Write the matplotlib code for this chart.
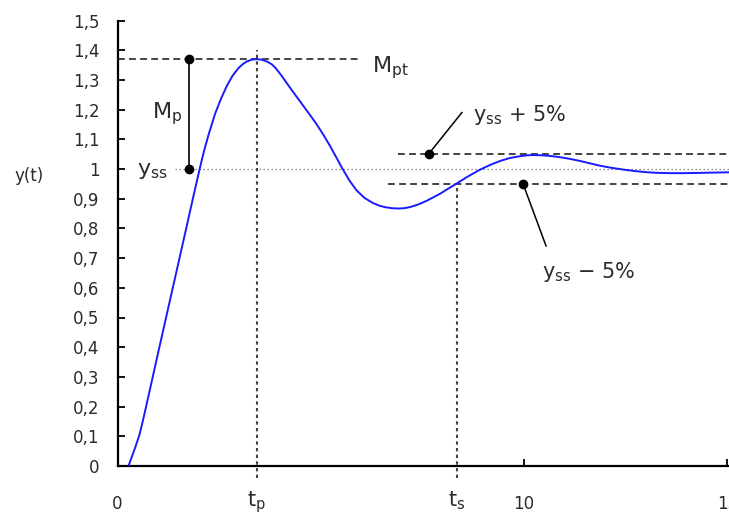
import matplotlib
matplotlib.use("Agg")
import matplotlib.pyplot as plt

plt.rcParams["font.family"] = ["DejaVu Sans"]
plt.rcParams["mathtext.fontset"] = "dejavusans"

# Step response y(t), sampled along the curve
t_resp = [0.27, 0.35, 0.44, 0.54, 0.62, 0.70, 0.87, 1.03, 1.20, 1.36, 1.53, 1.69,
          1.85, 2.00, 2.08, 2.15, 2.25, 2.40, 2.55, 2.69, 2.83, 2.97, 3.08, 3.18,
          3.30, 3.42, 3.55, 3.69, 3.80, 3.90, 4.03, 4.16, 4.30, 4.44, 4.60, 4.75,
          4.90, 5.06, 5.23, 5.37, 5.52, 5.70, 5.88, 6.08, 6.29, 6.45, 6.60, 6.75,
          6.91, 7.05, 7.20, 7.32, 7.44, 7.62, 7.80, 7.95, 8.10, 8.34, 8.62, 8.92,
          9.17, 9.41, 9.65, 9.90, 10.06, 10.22, 10.45, 10.71, 10.92, 11.13, 11.38, 11.62,
          11.87, 12.15, 12.44, 12.73, 13.02, 13.30, 13.59, 13.95, 14.33, 14.70, 15.05]
y_resp = [0.000, 0.030, 0.064, 0.105, 0.150, 0.198, 0.302, 0.400, 0.503, 0.600, 0.703, 0.800,
          0.898, 0.988, 1.034, 1.072, 1.120, 1.186, 1.238, 1.280, 1.314, 1.339, 1.353, 1.362,
          1.368, 1.370, 1.368, 1.361, 1.352, 1.338, 1.315, 1.290, 1.263, 1.237, 1.207, 1.179,
          1.150, 1.116, 1.077, 1.042, 1.004, 0.962, 0.928, 0.902, 0.885, 0.876, 0.871, 0.868,
          0.867, 0.868, 0.872, 0.877, 0.883, 0.894, 0.907, 0.918, 0.931, 0.951, 0.975, 0.998,
          1.014, 1.027, 1.037, 1.043, 1.046, 1.047, 1.046, 1.043, 1.039, 1.034, 1.027, 1.019,
          1.011, 1.004, 0.998, 0.993, 0.989, 0.987, 0.986, 0.986, 0.987, 0.988, 0.989]

# Characteristic values
y_ss = 1.0
M_pt = 1.37
t_peak = 3.42
t_settle = 8.35
band = 0.05

# Axis ticks
y_ticks = [0.0, 0.1, 0.2, 0.3, 0.4, 0.5, 0.6, 0.7, 0.8, 0.9, 1.0, 1.1, 1.2, 1.3, 1.4, 1.5]
y_tick_labels = ["0", "0,1", "0,2", "0,3", "0,4", "0,5", "0,6", "0,7", "0,8", "0,9",
                 "1", "1,1", "1,2", "1,3", "1,4", "1,5"]
x_ticks = [0, 10, 15]
x_tick_labels = ["0", "10", "15"]
x_marks = [t_peak, t_settle]
x_mark_labels = [r"$\mathrm{t_p}$", r"$\mathrm{t_s}$"]

TXT = "#2b2b2b"
GRID = "#444444"

fig = plt.figure(figsize=(7.29, 5.13), dpi=100)
ax = fig.add_axes([117.5 / 729, 47 / 513, 611.5 / 729, 445.5 / 513])
ax.set_xlim(0, 15.04)
ax.set_ylim(0, 1.5)

for s in ("top", "right"):
    ax.spines[s].set_visible(False)
for s in ("left", "bottom"):
    ax.spines[s].set_linewidth(1.6)
    ax.spines[s].set_color("black")

ax.set_yticks(y_ticks)
ax.set_yticklabels(y_tick_labels)
ax.set_xticks(x_ticks)
ax.set_xticklabels(x_tick_labels)
ax.set_xticks(x_marks, minor=True)
ax.set_xticklabels(x_mark_labels, minor=True, fontsize=15)
ax.tick_params(axis="y", direction="in", length=5, width=1.3, pad=13,
               labelsize=12, labelcolor=TXT)
ax.tick_params(axis="x", which="major", direction="in", length=5, width=1.3, pad=21,
               labelsize=12, labelcolor=TXT)
ax.tick_params(axis="x", which="minor", length=0, pad=17, labelcolor=TXT)

# reference lines
dash = (0, (3.5, 2.2))
dot = (0, (1.6, 1.6))
ax.plot([0, 5.97], [M_pt, M_pt], color=GRID, lw=1.4, ls=dash, clip_on=False)
ax.plot([1.42, 15.04], [y_ss, y_ss], color="#666666", lw=0.9, ls=(0, (1, 2.2)))
ax.plot([6.90, 15.04], [y_ss + band, y_ss + band], color=GRID, lw=1.4, ls=dash)
ax.plot([6.65, 15.04], [y_ss - band, y_ss - band], color=GRID, lw=1.4, ls=dash)
ax.plot([t_peak, t_peak], [-0.04, 1.40], color=GRID, lw=1.5, ls=dot, clip_on=False)
ax.plot([t_settle, t_settle], [-0.04, y_ss - band], color=GRID, lw=1.5, ls=dot, clip_on=False)

# response curve
ax.plot(t_resp, y_resp, color="#1a1aff", lw=1.4, solid_joinstyle="round",
        solid_capstyle="round", zorder=5)

# overshoot bracket
ax.plot([1.76, 1.76], [y_ss, M_pt], color="black", lw=1.2, zorder=6)
ax.plot([1.76, 1.76], [y_ss, M_pt], "o", color="black", ms=6, zorder=7)

# tolerance band pointers
ax.plot([7.65, 8.47], [y_ss + band, 1.19], color="black", lw=1.1, zorder=6)
ax.plot([7.65], [y_ss + band], "o", color="black", ms=6, zorder=7)
ax.plot([9.975, 10.54], [y_ss - band, 0.741], color="black", lw=1.1, zorder=6)
ax.plot([9.975], [y_ss - band], "o", color="black", ms=6, zorder=7)

# labels
ax.text(6.25, 1.343, r"$\mathrm{M_{pt}}$", fontsize=16, color=TXT, ha="left", va="center")
ax.text(1.60, 1.185, r"$\mathrm{M_p}$", fontsize=16, color=TXT, ha="right", va="center")
ax.text(1.25, 0.993, r"$\mathrm{y_{ss}}$", fontsize=16, color=TXT, ha="right", va="center")
ax.text(8.75, 1.182, r"$\mathrm{y_{ss}}$ + 5%", fontsize=15, color=TXT, ha="left", va="center")
ax.text(10.44, 0.653, r"$\mathrm{y_{ss}}$ − 5%", fontsize=15, color=TXT, ha="left", va="center")
fig.text(29 / 729, 1 - 176 / 513, "y(t)", fontsize=12, color=TXT, ha="center", va="center")

fig.savefig("out.png", dpi=100)
